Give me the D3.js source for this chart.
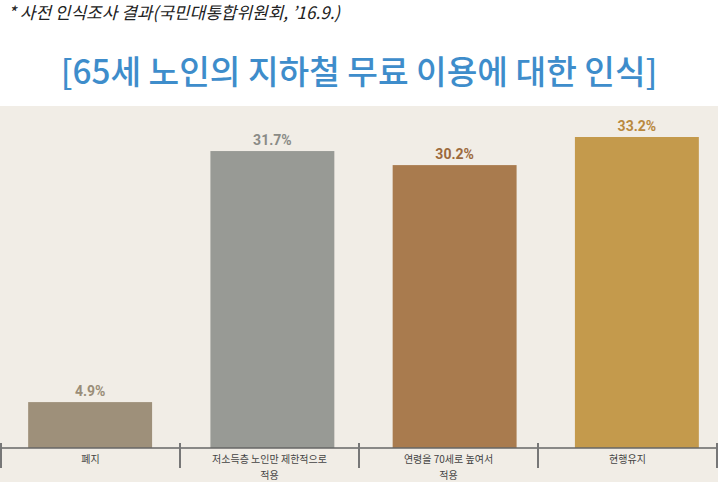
<!DOCTYPE html>
<html><head><meta charset="utf-8">
<script src="https://cdn.jsdelivr.net/npm/d3@7"></script>
<style>body{margin:0;background:#fff}svg{display:block}</style>
</head><body>
<svg id="c" width="718" height="482"></svg>
<script>
const categories = ["폐지", "저소득층 노인만 제한적으로\n적용", "연령을 70세로 높여서\n적용", "현행유지"];
const values = [4.9, 31.7, 30.2, 33.2];
const valueLabels = ["4.9%", "31.7%", "30.2%", "33.2%"];
const barColors = ["#9e907a", "#989a95", "#a97b4e", "#c49a4c"];
const labelColors = ["#9a8d78", "#8a8b86", "#9c6a3c", "#b9893e"];
const subtitle = "* 사전 인식조사 결과(국민대통합위원회, ’16.9.)";
const title = "[65세 노인의 지하철 무료 이용에 대한 인식]";

const W = 718, H = 482;
const svg = d3.select("#c");
const font = "'Noto Sans CJK KR', 'Noto Sans', sans-serif";

svg.append("rect").attr("x", 0).attr("y", 106).attr("width", W).attr("height", H - 106).attr("fill", "#f1ede6");

svg.append("text").attr("x", 8).attr("y", 19).attr("font-family", font).attr("font-style", "italic")
  .attr("font-size", 17).attr("fill", "#222").text(subtitle);
svg.append("text").attr("x", 359).attr("y", 84).attr("text-anchor", "middle").attr("font-family", font)
  .attr("font-size", 33.3).attr("font-weight", 500).attr("fill", "#3e8dcb").text(title);

const baseY = 448;
// axis bands (tick marks & labels)
const xa = d3.scaleBand().domain(categories).range([1, 717]).padding(0);
// bars
const x = d3.scaleBand().domain(categories).range([-1, 728]).paddingInner(0.32).paddingOuter(0.16);
const y = d3.scaleLinear().domain([0, 33.2]).range([baseY, 137]);

const g = svg.append("g");
g.selectAll("rect.bar").data(values).join("rect").attr("class", "bar")
  .attr("x", (d, i) => x(categories[i])).attr("width", x.bandwidth())
  .attr("y", d => y(d)).attr("height", d => baseY - y(d))
  .attr("fill", (d, i) => barColors[i]);

g.selectAll("text.val").data(values).join("text").attr("class", "val")
  .attr("x", (d, i) => x(categories[i]) + x.bandwidth() / 2).attr("y", d => y(d) - 6)
  .attr("text-anchor", "middle").attr("font-family", "Roboto, 'Noto Sans', sans-serif")
  .attr("font-weight", 700).attr("font-size", 14).attr("fill", (d, i) => labelColors[i])
  .text((d, i) => valueLabels[i]);

// axis
const axisG = svg.append("g");
axisG.append("line").attr("x1", 0).attr("x2", W).attr("y1", baseY).attr("y2", baseY)
  .attr("stroke", "#666").attr("stroke-width", 1.5);
const tickXs = categories.map(c => xa(c)).concat([xa.range()[1]]);
axisG.selectAll("line.tick").data(tickXs).join("line").attr("class", "tick")
  .attr("x1", d => d).attr("x2", d => d).attr("y1", 443).attr("y2", 468)
  .attr("stroke", "#777").attr("stroke-width", 2);

const catLines = [];
categories.forEach(c => c.split("\n").forEach((l, i) => catLines.push({c, l, i})));
axisG.selectAll("text.cat").data(catLines).join("text").attr("class", "cat")
  .attr("x", d => xa(d.c) + xa.bandwidth() / 2).attr("y", d => 463 + d.i * 16)
  .attr("text-anchor", "middle").attr("font-family", font).attr("font-size", 10).attr("fill", "#444")
  .text(d => d.l);
</script>
</body></html>
